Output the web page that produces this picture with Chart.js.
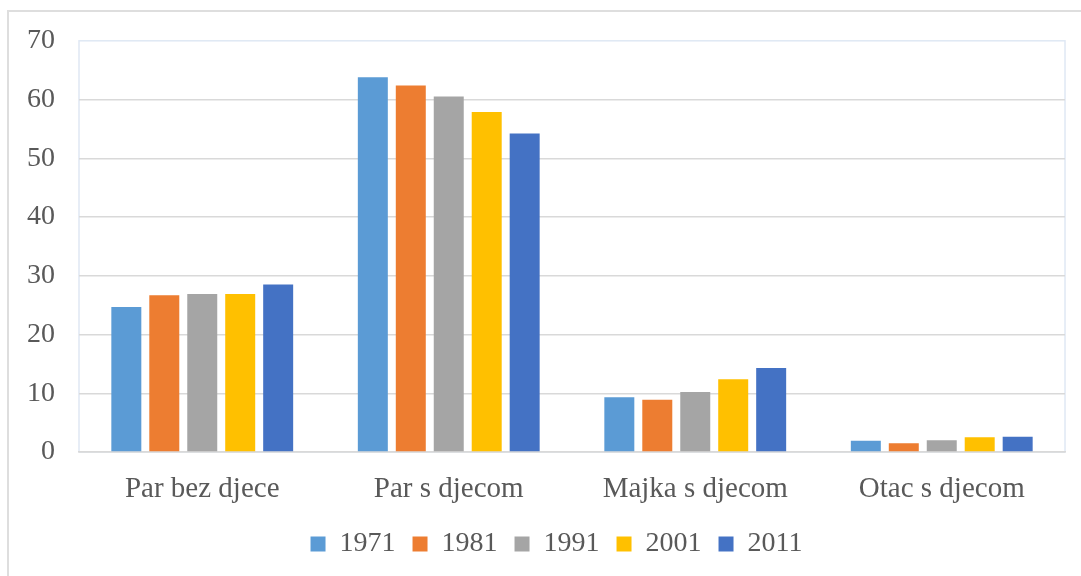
<!DOCTYPE html>
<html lang="hr">
<head>
    <meta charset="UTF-8">
    <title>Obitelji po tipu</title>
    <script src="https://cdn.jsdelivr.net/npm/chart.js"></script>
    <style>
        body { margin: 0; background: #fff; overflow: hidden; }
        #okvir {
            position: absolute; left: 7px; top: 10px;
            width: 1090px; height: 580px;
            border: 2px solid #dedede;
        }
        #wrap { position: absolute; left: 0; top: 0; width: 1081px; height: 576px; }
    </style>
</head>
<body>
    <div id="okvir"></div>
    <div id="wrap">
        <canvas id="obiteljiChart" width="1081" height="576"></canvas>
    </div>

    <script>
        // podaci (postotak obitelji po tipu)
        const kategorije = ['Par bez djece', 'Par s djecom', 'Majka s djecom', 'Otac s djecom'];
        const godine = ['1971', '1981', '1991', '2001', '2011'];
        const v1971 = [24.7, 63.8, 9.3, 1.9];
        const v1981 = [26.7, 62.4, 8.9, 1.5];
        const v1991 = [26.9, 60.5, 10.2, 2.0];
        const v2001 = [26.9, 57.9, 12.4, 2.5];
        const v2011 = [28.5, 54.2, 14.3, 2.6];
        const boje = ['#5B9BD5', '#ED7D31', '#A5A5A5', '#FFC000', '#4472C4'];

        const serije = [v1971, v1981, v1991, v2001, v2011];
        const obitelj = '"Liberation Serif", "Times New Roman", serif';

        // tanki okvir oko područja grafa + legenda malo udesno
        const okvirPodrucja = {
            id: 'okvirPodrucja',
            afterLayout(chart) {
                chart.legend.left += 48;
            },
            beforeDraw(chart) {
                const a = chart.chartArea;
                const ctx = chart.ctx;
                ctx.save();
                ctx.strokeStyle = '#dfe8f4';
                ctx.lineWidth = 1.5;
                ctx.strokeRect(a.left, a.top, a.right - a.left, a.bottom - a.top);
                ctx.restore();
            }
        };

        const ctx = document.getElementById('obiteljiChart').getContext('2d');
        new Chart(ctx, {
            type: 'bar',
            data: {
                labels: kategorije,
                datasets: godine.map((g, i) => ({
                    label: g,
                    data: serije[i],
                    backgroundColor: boje[i],
                    borderWidth: 0,
                    categoryPercentage: 0.77,
                    barPercentage: 0.79
                }))
            },
            options: {
                responsive: false,
                animation: false,
                layout: { padding: { top: 39, left: 0, right: 16, bottom: 8 } },
                plugins: {
                    tooltip: { enabled: false },
                    legend: {
                        position: 'bottom',
                        labels: {
                            boxWidth: 15,
                            boxHeight: 15,
                            padding: 17,
                            color: '#595959',
                            font: { family: obitelj, size: 28 }
                        }
                    }
                },
                scales: {
                    x: {
                        grid: { display: false },
                        border: { color: '#d9d9d9', width: 1.5 },
                        ticks: { color: '#595959', font: { family: obitelj, size: 29 }, padding: 12, maxRotation: 0 },
                        afterFit(scale) { scale.height = 61; }
                    },
                    y: {
                        min: 0,
                        max: 70,
                        grid: {
                            color: c => c.tick.value === 70 ? 'rgba(0,0,0,0)' : '#d9d9d9',
                            lineWidth: 1.5,
                            drawTicks: false
                        },
                        border: { display: false },
                        ticks: { stepSize: 10, color: '#595959', font: { family: obitelj, size: 28 }, padding: 24 },
                        afterFit(scale) { scale.width = 79; }
                    }
                }
            },
            plugins: [okvirPodrucja]
        });
    </script>
</body>
</html>
